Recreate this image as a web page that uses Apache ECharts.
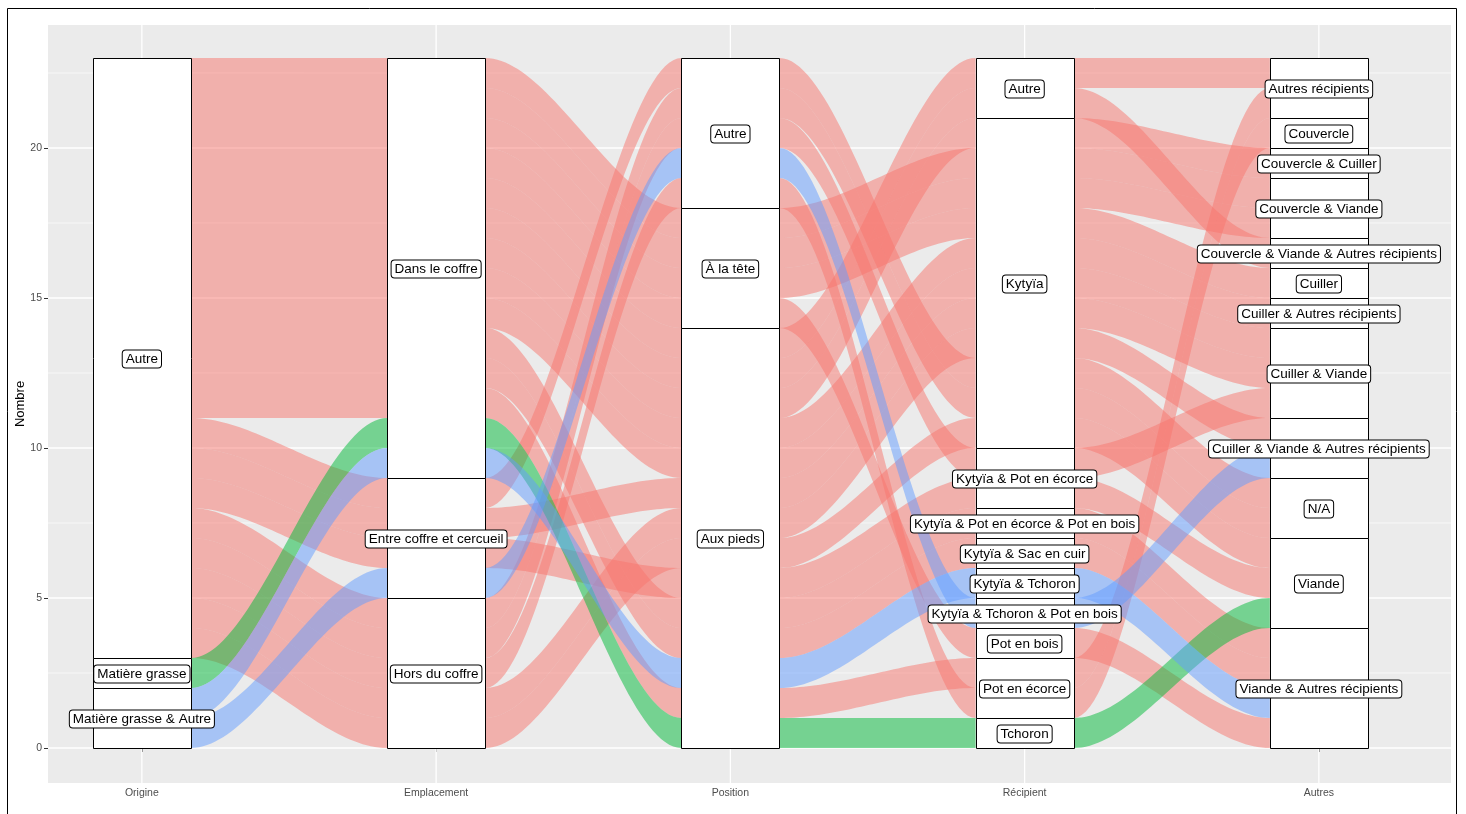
<!DOCTYPE html>
<html>
<head>
<meta charset="utf-8">
<script src="https://cdn.jsdelivr.net/npm/echarts@6/dist/echarts.min.js"></script>
<style>
  html, body { margin: 0; padding: 0; background: #fff; }
  #chart { width: 1466px; height: 814px; }
</style>
</head>
<body>
<div id="chart"></div>
<script>
// axes of the alluvial plot
const axisNames = ['Origine', 'Emplacement', 'Position', 'Récipient', 'Autres'];

// strata levels, first level drawn on top
const origineLevels = ['Autre', 'Matière grasse', 'Matière grasse & Autre'];
const emplacementLevels = ['Dans le coffre', 'Entre coffre et cercueil', 'Hors du coffre'];
const positionLevels = ['Autre', 'À la tête', 'Aux pieds'];
const recipientLevels = ['Autre', 'Kytyïa', 'Kytyïa & Pot en écorce', 'Kytyïa & Pot en écorce & Pot en bois',
  'Kytyïa & Sac en cuir', 'Kytyïa & Tchoron', 'Kytyïa & Tchoron & Pot en bois', 'Pot en bois', 'Pot en écorce', 'Tchoron'];
const autresLevels = ['Autres récipients', 'Couvercle', 'Couvercle & Cuiller', 'Couvercle & Viande',
  'Couvercle & Viande & Autres récipients', 'Cuiller', 'Cuiller & Autres récipients', 'Cuiller & Viande',
  'Cuiller & Viande & Autres récipients', 'N/A', 'Viande', 'Viande & Autres récipients'];

// one entry per observation (23)
const origine = ['Autre', 'Autre', 'Autre', 'Autre', 'Autre', 'Autre', 'Autre', 'Autre', 'Autre', 'Autre', 'Autre', 'Autre',
  'Autre', 'Autre', 'Autre', 'Autre', 'Autre', 'Autre', 'Autre', 'Autre',
  'Matière grasse', 'Matière grasse & Autre', 'Matière grasse & Autre'];
const emplacement = ['Dans le coffre', 'Dans le coffre', 'Dans le coffre', 'Dans le coffre', 'Dans le coffre', 'Dans le coffre',
  'Dans le coffre', 'Dans le coffre', 'Dans le coffre', 'Dans le coffre', 'Dans le coffre', 'Dans le coffre',
  'Entre coffre et cercueil', 'Entre coffre et cercueil', 'Entre coffre et cercueil',
  'Hors du coffre', 'Hors du coffre', 'Hors du coffre', 'Hors du coffre', 'Hors du coffre',
  'Dans le coffre', 'Dans le coffre', 'Entre coffre et cercueil'];
const position = ['À la tête', 'À la tête', 'À la tête', 'À la tête',
  'Aux pieds', 'Aux pieds', 'Aux pieds', 'Aux pieds', 'Aux pieds', 'Aux pieds', 'Aux pieds', 'Aux pieds',
  'Autre', 'Aux pieds', 'Aux pieds',
  'Autre', 'Autre', 'Autre', 'Aux pieds', 'Aux pieds',
  'Aux pieds', 'Aux pieds', 'Autre'];
const recipient = ['Kytyïa', 'Kytyïa', 'Kytyïa', 'Pot en bois',
  'Autre', 'Autre', 'Kytyïa', 'Kytyïa', 'Kytyïa', 'Kytyïa & Pot en écorce & Pot en bois', 'Kytyïa & Sac en cuir', 'Pot en écorce',
  'Kytyïa', 'Kytyïa', 'Kytyïa & Pot en écorce',
  'Kytyïa', 'Kytyïa & Pot en écorce', 'Pot en écorce', 'Kytyïa', 'Kytyïa',
  'Tchoron', 'Kytyïa & Tchoron', 'Kytyïa & Tchoron & Pot en bois'];
const autres = ['Couvercle & Viande', 'Couvercle & Viande', 'Cuiller', 'Viande & Autres récipients',
  'Autres récipients', 'Couvercle & Viande & Autres récipients', 'Couvercle & Cuiller', 'Cuiller & Autres récipients',
  'Cuiller & Viande', 'Viande & Autres récipients', 'Viande & Autres récipients', 'Autres récipients',
  'N/A', 'Cuiller & Viande', 'Viande',
  'N/A', 'Cuiller & Viande', 'Couvercle', 'Cuiller & Viande & Autres récipients', 'Viande',
  'Viande', 'Viande & Autres récipients', 'Cuiller & Viande & Autres récipients'];

const yTicks = [0, 5, 10, 15, 20];
const fillColors = ['#F8766D', '#00BA38', '#619CFF'];

const levels = [origineLevels, emplacementLevels, positionLevels, recipientLevels, autresLevels];
const columns = [origine, emplacement, position, recipient, autres];
const nObs = origine.length;
const nAxes = columns.length;
const codes = columns.map((col, a) => col.map(v => levels[a].indexOf(v)));

// zigzag lode guidance (as in ggalluvial)
function zigzag(n, i) {
  const r1 = i - 1, r2 = n - i, r = Math.min(r1, r2);
  const rs = i <= n / 2 ? [-1, 1] : [1, -1];
  const ord = [i];
  for (let k = 1; k <= r; k++) { ord.push(i + k * rs[0]); ord.push(i + k * rs[1]); }
  if (r1 !== r2) {
    const sgn = r2 > r1 ? 1 : -1;
    for (let k = r + 1; k <= Math.max(r1, r2); k++) ord.push(i + sgn * k);
  }
  return ord.map(v => v - 1);
}

// bottom of each lode at each axis
const lodeBottom = [];
for (let a = 0; a < nAxes; a++) {
  const ord = zigzag(nAxes, a + 1);
  const rows = [...Array(nObs).keys()].sort((p, q) => {
    for (const b of ord) {
      if (codes[b][p] !== codes[b][q]) return codes[b][p] - codes[b][q];
    }
    return p - q;
  });
  const bottoms = new Array(nObs);
  rows.forEach((row, k) => { bottoms[row] = nObs - k - 1; });
  lodeBottom.push(bottoms);
}

// strata
const strataData = [];
for (let a = 0; a < nAxes; a++) {
  let top = nObs;
  levels[a].forEach((lv, li) => {
    const cnt = codes[a].filter(c => c === li).length;
    if (cnt > 0) { strataData.push([a + 1, top - cnt, top, li]); top -= cnt; }
  });
}

const flowData = [];
for (let r = 0; r < nObs; r++) {
  for (let s = 0; s < nAxes - 1; s++) flowData.push([s, r]);
}

const gridLineData = [];
for (let v = 0; v <= 22.5; v += 2.5) gridLineData.push([0, v, v % 5 === 0 ? 1 : 0]);
for (let a = 1; a <= nAxes; a++) gridLineData.push([1, a, 1]);

const W = 1 / 3;
const CURVE = 0.33;

function bez(t, p0, p1, p2, p3) {
  const u = 1 - t;
  return u * u * u * p0 + 3 * u * u * t * p1 + 3 * u * t * t * p2 + t * t * t * p3;
}

function renderFlow(params, api) {
  const s = api.value(0), r = api.value(1);
  const xa = s + 1 + W / 2, xb = s + 2 - W / 2, dx = xb - xa;
  const b0 = lodeBottom[s][r], b1 = lodeBottom[s + 1][r];
  const N = 48, top = [], bot = [];
  for (let k = 0; k <= N; k++) {
    const t = k / N;
    const x = bez(t, xa, xa + CURVE * dx, xb - CURVE * dx, xb);
    const f = bez(t, 0, 0, 1, 1);
    top.push(api.coord([x, b0 + 1 + (b1 - b0) * f]));
    bot.push(api.coord([x, b0 + (b1 - b0) * f]));
  }
  const pts = top.concat(bot.reverse());
  return {
    type: 'polygon',
    shape: { points: pts },
    style: { fill: fillColors[codes[0][r]], opacity: 0.5 }
  };
}

function renderStratum(params, api) {
  const a = api.value(0);
  const p0 = api.coord([a - W / 2, api.value(2)]);
  const p1 = api.coord([a + W / 2, api.value(1)]);
  return {
    type: 'rect',
    shape: { x: Math.round(p0[0]) + 0.5, y: Math.round(p0[1]) + 0.5, width: Math.round(p1[0] - p0[0]), height: Math.round(p1[1] - p0[1]) },
    style: { fill: '#fff', stroke: '#000', lineWidth: 1 }
  };
}

function renderLabel(params, api) {
  const a = api.value(0);
  const c = api.coord([a, (api.value(1) + api.value(2)) / 2]);
  return {
    type: 'text',
    x: c[0], y: c[1] + 1,
    style: {
      text: levels[a - 1][api.value(3)],
      align: 'center', verticalAlign: 'middle',
      fill: '#000',
      font: '13.5px "Liberation Sans", Arial, sans-serif',
      backgroundColor: '#fff', borderColor: '#000', borderWidth: 1, borderRadius: 3,
      padding: [2, 3, 1, 3]
    }
  };
}

function renderGridLine(params, api) {
  const cs = params.coordSys;
  const major = api.value(2) === 1;
  let shape;
  if (api.value(0) === 0) {
    const y = api.coord([1, api.value(1)])[1];
    shape = { x1: cs.x, y1: y, x2: cs.x + cs.width, y2: y };
  } else {
    const x = api.coord([api.value(1), 0])[0];
    shape = { x1: x, y1: cs.y, x2: x, y2: cs.y + cs.height };
  }
  return {
    type: 'line', shape,
    style: { stroke: '#fff', lineWidth: major ? 1.3 : 0.6 }
  };
}

const chart = echarts.init(document.getElementById('chart'), null, { renderer: 'canvas' });

chart.setOption({
  animation: false,
  backgroundColor: '#fff',
  textStyle: { fontFamily: '"Liberation Sans", Arial, sans-serif' },
  graphic: [
    {
      type: 'rect', z: 100,
      shape: { x: 7.5, y: 8.5, width: 1449, height: 830 },
      style: { fill: null, stroke: '#000', lineWidth: 1 }
    },
    {
      type: 'text', z: 100, x: 20, y: 404, rotation: Math.PI / 2,
      style: { text: 'Nombre', fill: '#000', font: '13px "Liberation Sans", Arial, sans-serif', align: 'center', verticalAlign: 'middle' }
    }
  ],
  grid: { left: 48, top: 25, width: 1403, height: 758, show: true, backgroundColor: '#EBEBEB', borderWidth: 0 },
  xAxis: {
    type: 'value', min: 0.681, max: 5.449,
    axisLine: { show: false },
    axisTick: { show: true, customValues: [1, 2, 3, 4, 5], length: 4, lineStyle: { color: '#333' } },
    axisLabel: {
      customValues: [1, 2, 3, 4, 5], color: '#4d4d4d', fontSize: 10.5, margin: 5,
      formatter: v => axisNames[Math.round(v) - 1]
    },
    splitLine: { show: false }
  },
  yAxis: {
    type: 'value', min: -1.1667, max: 24.1,
    axisLine: { show: false },
    axisTick: { show: true, customValues: yTicks, length: 4, lineStyle: { color: '#333' } },
    axisLabel: { customValues: yTicks, color: '#4d4d4d', fontSize: 10.5, margin: 6 },
    splitLine: { show: false }
  },
  series: [
    { type: 'custom', z: 1, renderItem: renderGridLine, data: gridLineData, silent: true },
    { type: 'custom', z: 2, renderItem: renderFlow, data: flowData, silent: true },
    { type: 'custom', z: 3, renderItem: renderStratum, data: strataData, silent: true },
    { type: 'custom', z: 4, renderItem: renderLabel, data: strataData, silent: true }
  ]
});
</script>
</body>
</html>
